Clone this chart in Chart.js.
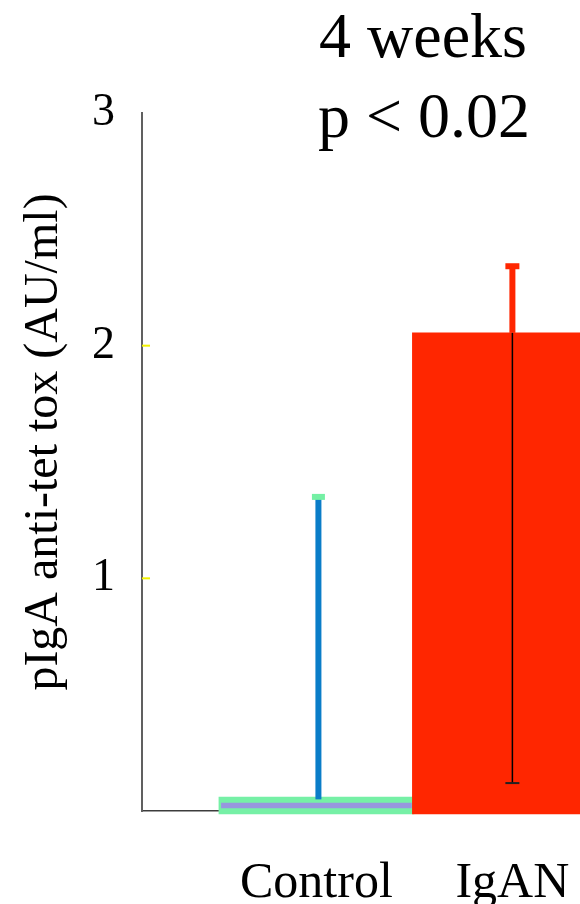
<!DOCTYPE html>
<html>
<head>
<meta charset="utf-8">
<script src="https://cdn.jsdelivr.net/npm/chart.js@4.4.1/dist/chart.umd.min.js"></script>
<style>
  html, body { margin: 0; padding: 0; background: #fff; }
  #wrap { width: 580px; height: 904px; }
</style>
</head>
<body>
<div id="wrap"><canvas id="iganChart" width="580" height="904"></canvas></div>
<script>
// categories and values
const categories = ['Control', 'IgAN'];
const barTops = [0.06, 2.055];       // mean value (bar height)
const innerBar = [0.013, 0.034];     // thin inner band drawn inside the control bar
const errTop = [1.35, 2.35];         // upper error whisker
const errBottom = [null, 0.12];      // lower error whisker (IgAN only)
const yTicks = [1, 2, 3];

const serif = '"Liberation Serif", "Times New Roman", serif';

// Plugin: error whiskers, yellow tick marks and the text around the plot
const extras = {
    id: 'extras',
    afterDatasetsDraw(chart) {
        const ctx = chart.ctx;
        const x = chart.scales.x;
        const y = chart.scales.y;
        ctx.save();

        // Control: blue stem with a mint cap
        let cx = x.getPixelForValue(1) + 2;
        ctx.fillStyle = '#0a7dc8';
        ctx.fillRect(cx - 3, y.getPixelForValue(errTop[0]), 6, y.getPixelForValue(barTops[0] - 0.01) - y.getPixelForValue(errTop[0]));
        ctx.fillStyle = '#74f0a4';
        ctx.fillRect(cx - 6.5, y.getPixelForValue(errTop[0]) - 3, 13, 6);

        // IgAN: red stem above the bar, black thin stem inside the bar
        cx = x.getPixelForValue(2);
        ctx.fillStyle = '#ff2600';
        ctx.fillRect(cx - 3, y.getPixelForValue(errTop[1]), 6, y.getPixelForValue(barTops[1]) - y.getPixelForValue(errTop[1]));
        ctx.fillRect(cx - 7, y.getPixelForValue(errTop[1]) - 1, 14, 6);
        ctx.fillStyle = '#000';
        ctx.fillRect(cx - 0.75, y.getPixelForValue(barTops[1]), 1.5, y.getPixelForValue(errBottom[1]) - y.getPixelForValue(barTops[1]));
        ctx.fillStyle = '#222';
        ctx.fillRect(cx - 7, y.getPixelForValue(errBottom[1]) - 1, 14, 2);

        // small yellow tick marks on the inside of the y axis
        ctx.fillStyle = '#f2f200';
        [1, 2].forEach(v => {
            ctx.fillRect(x.left, y.getPixelForValue(v) - 1, 8, 2);
        });

        ctx.restore();
    },
    afterDraw(chart) {
        const ctx = chart.ctx;
        ctx.save();
        ctx.fillStyle = '#000';
        ctx.textAlign = 'left';
        ctx.textBaseline = 'alphabetic';
        ctx.font = '64px ' + serif;
        ctx.fillText('4 weeks', 319, 57);
        ctx.fillText('p < 0.02', 318, 137);

        // y axis title
        ctx.translate(57, 442);
        ctx.rotate(-Math.PI / 2);
        ctx.textAlign = 'center';
        ctx.font = '48px ' + serif;
        ctx.fillText('pIgA anti-tet tox (AU/ml)', 0, 0);
        ctx.restore();
    }
};

new Chart(document.getElementById('iganChart'), {
    type: 'bar',
    data: {
        datasets: [
            {
                // IgAN bar, drawn on top
                data: [{ x: 2, y: [-0.013, barTops[1]] }],
                backgroundColor: '#ff2600',
                barThickness: 200,
                grouped: false,
                clip: false,
                order: 1
            },
            {
                data: [{ x: 1, y: innerBar }],
                backgroundColor: '#9797de',
                barThickness: 190,
                grouped: false,
                clip: false,
                order: 2
            },
            {
                data: [{ x: 1, y: [-0.013, barTops[0]] }],
                backgroundColor: '#76f0a6',
                barThickness: 195,
                grouped: false,
                clip: false,
                order: 3
            }
        ]
    },
    options: {
        responsive: false,
        animation: false,
        layout: { padding: { top: 113, right: 0, left: 0, bottom: 0 } },
        plugins: { legend: { display: false }, tooltip: { enabled: false } },
        scales: {
            x: {
                type: 'linear',
                min: 0.11,
                max: 2.345,
                offset: false,
                bounds: 'data',
                z: 1,
                grid: { display: false, drawTicks: false },
                border: { display: true, color: '#3c3c3c', width: 1.5 },
                afterBuildTicks: (scale) => {
                    scale.ticks = categories.map((c, i) => ({ value: i + 1 }));
                },
                afterFit: (scale) => {
                    scale.height = 93;
                    scale.paddingLeft = 0;
                    scale.paddingRight = 0;
                },
                ticks: {
                    padding: 43,
                    color: '#000',
                    maxRotation: 0,
                    font: { family: serif, size: 50 },
                    callback: (v) => categories[v - 1] || ''
                }
            },
            y: {
                min: 0,
                max: 3,
                z: 1,
                grid: { display: false, drawTicks: false },
                border: { display: true, color: '#606060', width: 2 },
                afterBuildTicks: (scale) => {
                    scale.ticks = yTicks.map(v => ({ value: v }));
                },
                afterFit: (scale) => { scale.width = 142; },
                ticks: {
                    padding: 27,
                    color: '#000',
                    font: { family: serif, size: 46 }
                }
            }
        }
    },
    plugins: [extras]
});
</script>
</body>
</html>
